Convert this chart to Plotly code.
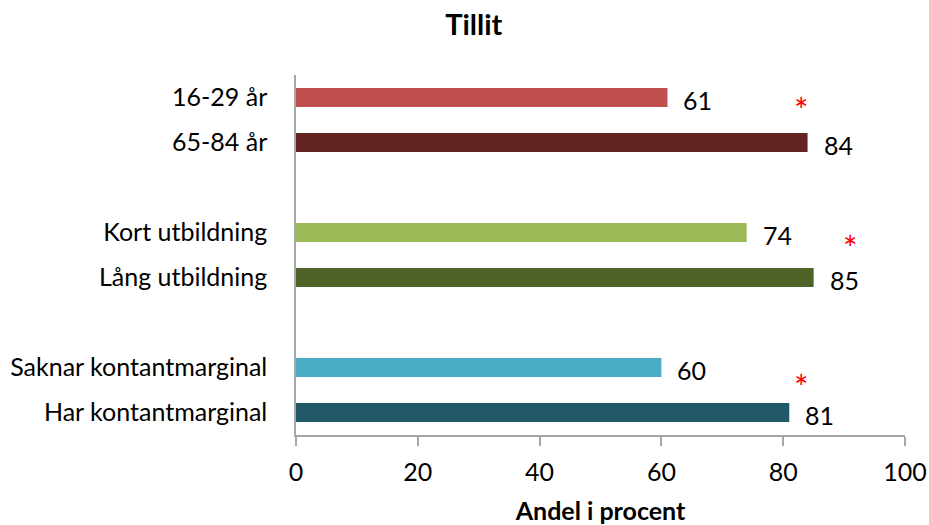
import plotly.graph_objects as go

categories = ["16-29 år", "65-84 år", "", "Kort utbildning", "Lång utbildning", "", "Saknar kontantmarginal", "Har kontantmarginal"]
values = [61, 84, None, 74, 85, None, 60, 81]
colors = ["#C0504D", "#632523", "#FFFFFF", "#9BBB59", "#4F6228", "#FFFFFF", "#4BACC6", "#215968"]
positions = list(range(len(categories)))
star_x = [83, 91, 83]
star_y = [0.27, 3.33, 6.43]
x_ticks = [0, 20, 40, 60, 80, 100]

font = "Lato, 'Open Sans', sans-serif"
fs = 25

fig = go.Figure()
fig.add_trace(go.Bar(
    x=[v if v is not None else 0 for v in values],
    y=positions,
    orientation="h",
    marker=dict(color=colors, line=dict(width=0)),
    width=0.42,
    hoverinfo="skip",
))

for p, v in zip(positions, values):
    if v is None:
        continue
    fig.add_annotation(x=v, y=p, text=str(v), showarrow=False, xanchor="left",
                       xshift=14, yshift=-2, font=dict(family=font, size=fs, color="#000"))

for sx, sy in zip(star_x, star_y):
    fig.add_annotation(x=sx, y=sy, text="*", showarrow=False, xanchor="center",
                       yanchor="middle", font=dict(family=font, size=34, color="#FF0000"))

fig.update_layout(
    width=929, height=525,
    margin=dict(l=296, r=24, t=75, b=90),
    paper_bgcolor="white", plot_bgcolor="white",
    showlegend=False,
    title=dict(text="<b>Tillit</b>", x=0.51, xanchor="center", y=0.952, yanchor="middle",
               font=dict(family=font, size=29, color="#000")),
    font=dict(family=font, size=fs, color="#000"),
)
fig.update_xaxes(
    range=[0, 100], tickvals=x_ticks, ticktext=[str(t) for t in x_ticks],
    showgrid=False, zeroline=False, showline=True, linecolor="#A6A6A6", linewidth=1.5,
    ticks="outside", ticklen=9, tickcolor="#A6A6A6", tickwidth=1.5, automargin=False,
    tickfont=dict(family=font, size=fs, color="#000"), ticklabelstandoff=5,
    title=dict(text="<b>Andel i procent</b>", font=dict(family=font, size=25, color="#000"), standoff=20),
)
fig.update_yaxes(
    range=[7.5, -0.5], tickvals=positions, ticktext=categories,
    showgrid=False, zeroline=False, showline=True, linecolor="#A6A6A6", linewidth=1.5,
    ticks="", automargin=False, tickfont=dict(family=font, size=fs, color="#000"), ticklabelstandoff=22,
)

fig.write_html("out.html", config={"displayModeBar": False},
               post_script="document.body.style.margin='0';")
